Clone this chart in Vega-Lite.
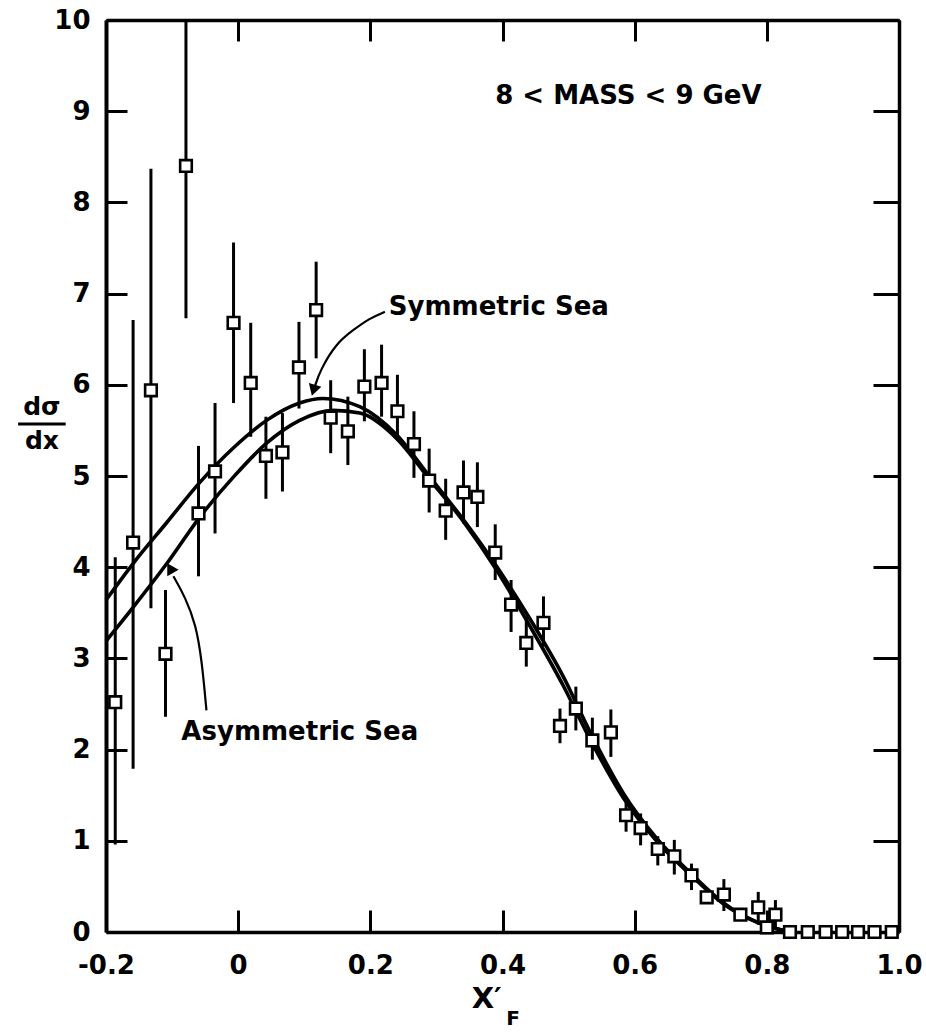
{
  "$schema": "https://vega.github.io/schema/vega-lite/v6.json",
  "width": 793,
  "height": 912,
  "autosize": {"type": "none"},
  "padding": {"left": 106, "top": 20, "right": 27, "bottom": 103},
  "background": "white",
  "config": {"view": {"stroke": null}, "font": "DejaVu Sans"},
  "resolve": {"axis": {"x": "independent", "y": "independent"}},
  "datasets": {
    "pts": [
      {"x": -0.186, "y": 2.52, "lo": 0.96, "hi": 4.11},
      {"x": -0.159, "y": 4.27, "lo": 1.79, "hi": 6.71},
      {"x": -0.132, "y": 5.94, "lo": 3.55, "hi": 8.37},
      {"x": -0.110, "y": 3.05, "lo": 2.36, "hi": 3.75},
      {"x": -0.079, "y": 8.40, "lo": 6.73, "hi": 10.07},
      {"x": -0.060, "y": 4.59, "lo": 3.90, "hi": 5.33},
      {"x": -0.035, "y": 5.05, "lo": 4.37, "hi": 5.80},
      {"x": -0.007, "y": 6.68, "lo": 5.80, "hi": 7.56},
      {"x": 0.019, "y": 6.02, "lo": 5.43, "hi": 6.68},
      {"x": 0.042, "y": 5.22, "lo": 4.75, "hi": 5.65},
      {"x": 0.067, "y": 5.26, "lo": 4.83, "hi": 5.69},
      {"x": 0.092, "y": 6.19, "lo": 5.74, "hi": 6.69},
      {"x": 0.118, "y": 6.82, "lo": 6.29, "hi": 7.35},
      {"x": 0.140, "y": 5.64, "lo": 5.25, "hi": 6.05},
      {"x": 0.166, "y": 5.49, "lo": 5.12, "hi": 5.87},
      {"x": 0.191, "y": 5.98, "lo": 5.60, "hi": 6.39},
      {"x": 0.217, "y": 6.02, "lo": 5.65, "hi": 6.44},
      {"x": 0.241, "y": 5.71, "lo": 5.45, "hi": 6.11},
      {"x": 0.266, "y": 5.35, "lo": 4.98, "hi": 5.71},
      {"x": 0.289, "y": 4.95, "lo": 4.60, "hi": 5.30},
      {"x": 0.314, "y": 4.62, "lo": 4.30, "hi": 4.97},
      {"x": 0.341, "y": 4.82, "lo": 4.48, "hi": 5.17},
      {"x": 0.362, "y": 4.77, "lo": 4.44, "hi": 5.15},
      {"x": 0.389, "y": 4.16, "lo": 3.86, "hi": 4.47},
      {"x": 0.413, "y": 3.59, "lo": 3.29, "hi": 3.86},
      {"x": 0.436, "y": 3.17, "lo": 2.91, "hi": 3.46},
      {"x": 0.462, "y": 3.39, "lo": 3.13, "hi": 3.68},
      {"x": 0.487, "y": 2.26, "lo": 2.07, "hi": 2.45},
      {"x": 0.511, "y": 2.45, "lo": 2.21, "hi": 2.69},
      {"x": 0.536, "y": 2.10, "lo": 1.89, "hi": 2.35},
      {"x": 0.564, "y": 2.19, "lo": 1.92, "hi": 2.44},
      {"x": 0.587, "y": 1.28, "lo": 1.10, "hi": 1.48},
      {"x": 0.609, "y": 1.14, "lo": 0.95, "hi": 1.30},
      {"x": 0.635, "y": 0.91, "lo": 0.73, "hi": 1.05},
      {"x": 0.660, "y": 0.83, "lo": 0.63, "hi": 1.01},
      {"x": 0.686, "y": 0.62, "lo": 0.46, "hi": 0.75},
      {"x": 0.709, "y": 0.38, "lo": 0.38, "hi": 0.38},
      {"x": 0.735, "y": 0.41, "lo": 0.23, "hi": 0.58},
      {"x": 0.760, "y": 0.19, "lo": 0.19, "hi": 0.19},
      {"x": 0.787, "y": 0.27, "lo": 0.08, "hi": 0.44},
      {"x": 0.800, "y": 0.05, "lo": 0.05, "hi": 0.05},
      {"x": 0.813, "y": 0.19, "lo": 0.02, "hi": 0.35},
      {"x": 0.835, "y": 0.0, "lo": 0.0, "hi": 0.0},
      {"x": 0.862, "y": 0.0, "lo": 0.0, "hi": 0.0},
      {"x": 0.889, "y": 0.0, "lo": 0.0, "hi": 0.0},
      {"x": 0.914, "y": 0.0, "lo": 0.0, "hi": 0.0},
      {"x": 0.938, "y": 0.0, "lo": 0.0, "hi": 0.0},
      {"x": 0.963, "y": 0.0, "lo": 0.0, "hi": 0.0},
      {"x": 0.989, "y": 0.0, "lo": 0.0, "hi": 0.0}
    ],
    "curves": [
      {"series": "Symmetric Sea", "x": -0.2, "y": 3.64},
      {"series": "Symmetric Sea", "x": -0.159, "y": 4.04},
      {"series": "Symmetric Sea", "x": -0.108, "y": 4.49},
      {"series": "Symmetric Sea", "x": -0.058, "y": 4.93},
      {"series": "Symmetric Sea", "x": -0.007, "y": 5.31},
      {"series": "Symmetric Sea", "x": 0.043, "y": 5.61},
      {"series": "Symmetric Sea", "x": 0.093, "y": 5.80},
      {"series": "Symmetric Sea", "x": 0.128, "y": 5.85},
      {"series": "Symmetric Sea", "x": 0.184, "y": 5.76},
      {"series": "Symmetric Sea", "x": 0.240, "y": 5.45},
      {"series": "Symmetric Sea", "x": 0.290, "y": 4.99},
      {"series": "Symmetric Sea", "x": 0.341, "y": 4.52},
      {"series": "Symmetric Sea", "x": 0.391, "y": 4.01},
      {"series": "Symmetric Sea", "x": 0.441, "y": 3.44},
      {"series": "Symmetric Sea", "x": 0.492, "y": 2.80},
      {"series": "Symmetric Sea", "x": 0.532, "y": 2.20},
      {"series": "Symmetric Sea", "x": 0.583, "y": 1.52},
      {"series": "Symmetric Sea", "x": 0.633, "y": 1.03},
      {"series": "Symmetric Sea", "x": 0.684, "y": 0.65},
      {"series": "Symmetric Sea", "x": 0.734, "y": 0.32},
      {"series": "Symmetric Sea", "x": 0.784, "y": 0.11},
      {"series": "Symmetric Sea", "x": 0.835, "y": 0.0},
      {"series": "Asymmetric Sea", "x": -0.2, "y": 3.19},
      {"series": "Asymmetric Sea", "x": -0.159, "y": 3.56},
      {"series": "Asymmetric Sea", "x": -0.108, "y": 4.04},
      {"series": "Asymmetric Sea", "x": -0.058, "y": 4.55},
      {"series": "Asymmetric Sea", "x": -0.007, "y": 4.99},
      {"series": "Asymmetric Sea", "x": 0.043, "y": 5.36},
      {"series": "Asymmetric Sea", "x": 0.093, "y": 5.61},
      {"series": "Asymmetric Sea", "x": 0.144, "y": 5.72},
      {"series": "Asymmetric Sea", "x": 0.184, "y": 5.69},
      {"series": "Asymmetric Sea", "x": 0.240, "y": 5.41},
      {"series": "Asymmetric Sea", "x": 0.290, "y": 4.96},
      {"series": "Asymmetric Sea", "x": 0.341, "y": 4.50},
      {"series": "Asymmetric Sea", "x": 0.391, "y": 3.97},
      {"series": "Asymmetric Sea", "x": 0.441, "y": 3.36},
      {"series": "Asymmetric Sea", "x": 0.492, "y": 2.70},
      {"series": "Asymmetric Sea", "x": 0.532, "y": 2.12},
      {"series": "Asymmetric Sea", "x": 0.583, "y": 1.47},
      {"series": "Asymmetric Sea", "x": 0.633, "y": 1.00},
      {"series": "Asymmetric Sea", "x": 0.684, "y": 0.63},
      {"series": "Asymmetric Sea", "x": 0.734, "y": 0.31},
      {"series": "Asymmetric Sea", "x": 0.784, "y": 0.11},
      {"series": "Asymmetric Sea", "x": 0.835, "y": 0.0}
    ],
    "arrows": [
      {"arrow": "sym", "o": 1, "x": 0.222, "y": 6.80},
      {"arrow": "sym", "o": 2, "x": 0.199, "y": 6.73},
      {"arrow": "sym", "o": 3, "x": 0.174, "y": 6.60},
      {"arrow": "sym", "o": 4, "x": 0.149, "y": 6.46},
      {"arrow": "sym", "o": 5, "x": 0.124, "y": 6.16},
      {"arrow": "sym", "o": 6, "x": 0.116, "y": 5.98},
      {"arrow": "asym", "o": 1, "x": -0.048, "y": 2.43},
      {"arrow": "asym", "o": 2, "x": -0.055, "y": 2.98},
      {"arrow": "asym", "o": 3, "x": -0.064, "y": 3.37},
      {"arrow": "asym", "o": 4, "x": -0.080, "y": 3.67},
      {"arrow": "asym", "o": 5, "x": -0.098, "y": 3.90}
    ]
  },
  "layer": [
    {
      "data": {"name": "pts"},
      "mark": {"type": "rule", "stroke": "black", "strokeWidth": 3, "clip": true},
      "encoding": {
        "x": {"field": "x", "type": "quantitative",
          "scale": {"domain": [-0.2, 1.0], "nice": false, "zero": false},
          "axis": {"orient": "bottom", "values": [-0.2, 0, 0.2, 0.4, 0.6, 0.8, 1.0],
            "labelExpr": "datum.value == 0 ? '0' : (datum.value < 0 ? '-0.2' : format(datum.value, '.1f'))",
            "tickSize": -22, "tickWidth": 3, "tickColor": "black",
            "domainColor": "black", "domainWidth": 3.5,
            "labelFont": "DejaVu Sans", "labelFontSize": 26, "labelFontWeight": "bold", "labelColor": "black",
            "labelPadding": 42, "labelFlush": false, "labelOverlap": false, "grid": false, "title": null}},
        "y": {"field": "lo", "type": "quantitative",
          "scale": {"domain": [0, 10], "nice": false, "zero": false},
          "axis": {"orient": "left", "values": [0, 1, 2, 3, 4, 5, 6, 7, 8, 9, 10], "format": "d",
            "tickSize": -21, "tickWidth": 3, "tickColor": "black",
            "domainColor": "black", "domainWidth": 4,
            "labelFont": "DejaVu Sans", "labelFontSize": 26, "labelFontWeight": "bold", "labelColor": "black",
            "labelPadding": 37, "labelFlush": false, "labelOverlap": false, "grid": false, "title": null}},
        "y2": {"field": "hi"}
      }
    },
    {
      "data": {"name": "curves"},
      "mark": {"type": "line", "stroke": "black", "strokeWidth": 3.6, "interpolate": "monotone"},
      "encoding": {
        "x": {"field": "x", "type": "quantitative",
          "scale": {"domain": [-0.2, 1.0], "nice": false, "zero": false},
          "axis": {"orient": "top", "values": [-0.2, 0, 0.2, 0.4, 0.6, 0.8, 1.0], "labels": false,
            "tickSize": -21, "tickWidth": 3, "tickColor": "black",
            "domainColor": "black", "domainWidth": 3.5, "grid": false, "title": null}},
        "y": {"field": "y", "type": "quantitative",
          "scale": {"domain": [0, 10], "nice": false, "zero": false},
          "axis": {"orient": "right", "values": [0, 1, 2, 3, 4, 5, 6, 7, 8, 9, 10], "labels": false,
            "tickSize": -26, "tickWidth": 3, "tickColor": "black",
            "domainColor": "black", "domainWidth": 3.5, "grid": false, "title": null}},
        "detail": {"field": "series", "type": "nominal"}
      }
    },
    {
      "data": {"name": "pts"},
      "mark": {"type": "point", "shape": "square", "filled": true, "fill": "white", "stroke": "black", "strokeWidth": 2.6, "size": 135, "opacity": 1},
      "encoding": {
        "x": {"field": "x", "type": "quantitative", "scale": {"domain": [-0.2, 1.0], "nice": false, "zero": false}, "axis": null},
        "y": {"field": "y", "type": "quantitative", "scale": {"domain": [0, 10], "nice": false, "zero": false}, "axis": null}
      }
    },
    {
      "data": {"name": "arrows"},
      "mark": {"type": "line", "stroke": "black", "strokeWidth": 2.2, "interpolate": "basis"},
      "encoding": {
        "x": {"field": "x", "type": "quantitative", "axis": null},
        "y": {"field": "y", "type": "quantitative", "axis": null},
        "order": {"field": "o", "type": "quantitative"},
        "detail": {"field": "arrow", "type": "nominal"}
      }
    },
    {
      "data": {"values": [{"x": 0.114, "y": 5.94}]},
      "mark": {"type": "point", "shape": "triangle-down", "filled": true, "color": "black", "size": 170, "angle": 17, "opacity": 1},
      "encoding": {
        "x": {"field": "x", "type": "quantitative", "axis": null},
        "y": {"field": "y", "type": "quantitative", "axis": null}
      }
    },
    {
      "data": {"values": [{"x": -0.103, "y": 3.99}]},
      "mark": {"type": "point", "shape": "triangle-up", "filled": true, "color": "black", "size": 170, "angle": 330, "opacity": 1},
      "encoding": {
        "x": {"field": "x", "type": "quantitative", "axis": null},
        "y": {"field": "y", "type": "quantitative", "axis": null}
      }
    },
    {
      "data": {"values": [{"x": 0.389, "y": 9.17, "label": "8 < MASS < 9 GeV"}]},
      "mark": {"type": "text", "align": "left", "baseline": "middle", "font": "DejaVu Sans", "fontSize": 26, "fontWeight": "bold", "color": "black"},
      "encoding": {
        "x": {"field": "x", "type": "quantitative", "axis": null},
        "y": {"field": "y", "type": "quantitative", "axis": null},
        "text": {"field": "label"}
      }
    },
    {
      "data": {"values": [{"x": 0.228, "y": 6.85, "label": "Symmetric Sea"}, {"x": -0.086, "y": 2.19, "label": "Asymmetric Sea"}]},
      "mark": {"type": "text", "align": "left", "baseline": "middle", "font": "DejaVu Sans", "fontSize": 26, "fontWeight": "bold", "color": "black"},
      "encoding": {
        "x": {"field": "x", "type": "quantitative", "axis": null},
        "y": {"field": "y", "type": "quantitative", "axis": null},
        "text": {"field": "label"}
      }
    },
    {
      "data": {"values": [{"x": -0.297, "y": 5.76, "label": "dσ"}, {"x": -0.297, "y": 5.38, "label": "dx"}]},
      "mark": {"type": "text", "align": "center", "baseline": "middle", "font": "DejaVu Sans", "fontSize": 25, "fontWeight": "bold", "color": "black"},
      "encoding": {
        "x": {"field": "x", "type": "quantitative", "axis": null},
        "y": {"field": "y", "type": "quantitative", "axis": null},
        "text": {"field": "label"}
      }
    },
    {
      "data": {"values": [{"x": -0.333, "x2": -0.261, "y": 5.57}]},
      "mark": {"type": "rule", "stroke": "black", "strokeWidth": 3},
      "encoding": {
        "x": {"field": "x", "type": "quantitative", "axis": null},
        "x2": {"field": "x2"},
        "y": {"field": "y", "type": "quantitative", "axis": null}
      }
    },
    {
      "data": {"values": [{"x": 0.376, "y": -0.74, "label": "X′"}]},
      "mark": {"type": "text", "align": "center", "baseline": "middle", "font": "DejaVu Sans", "fontSize": 29, "fontWeight": "bold", "color": "black"},
      "encoding": {
        "x": {"field": "x", "type": "quantitative", "axis": null},
        "y": {"field": "y", "type": "quantitative", "axis": null},
        "text": {"field": "label"}
      }
    },
    {
      "data": {"values": [{"x": 0.416, "y": -0.95, "label": "F"}]},
      "mark": {"type": "text", "align": "center", "baseline": "middle", "font": "DejaVu Sans", "fontSize": 20, "fontWeight": "bold", "color": "black"},
      "encoding": {
        "x": {"field": "x", "type": "quantitative", "axis": null},
        "y": {"field": "y", "type": "quantitative", "axis": null},
        "text": {"field": "label"}
      }
    }
  ]
}
